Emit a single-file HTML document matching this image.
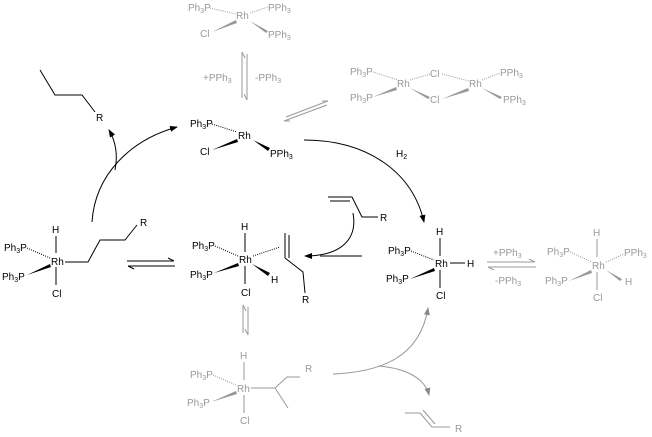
<!DOCTYPE html><html><head><style>html,body{margin:0;padding:0;background:#fff}svg{display:block}text{font-family:"Liberation Sans",sans-serif;font-size:10px}</style></head><body>
<svg width="652" height="437" viewBox="0 0 652 437" xmlns="http://www.w3.org/2000/svg">
<defs>
<marker id="ab" markerWidth="8" markerHeight="6" refX="7" refY="3" orient="auto" markerUnits="userSpaceOnUse"><path d="M0,0 L8,3 L0,6 Z" fill="#000"/></marker>
<marker id="ag" markerWidth="8" markerHeight="6" refX="7" refY="3" orient="auto" markerUnits="userSpaceOnUse"><path d="M0,0 L8,3 L0,6 Z" fill="#888"/></marker>
</defs>
<!-- Top gray Wilkinson -->
<g fill="#999" stroke="#999">
<text x="188" y="11" stroke="none">Ph<tspan font-size="7" dy="2">3</tspan><tspan dy="-2">P</tspan></text>
<line x1="210" y1="8" x2="236" y2="14" stroke-dasharray="1,1.2"/>
<text x="236" y="19" stroke="none">Rh</text>
<line x1="250" y1="13" x2="268" y2="7" stroke-dasharray="1,1.2"/>
<text x="268" y="11" stroke="none">PPh<tspan font-size="7" dy="2">3</tspan></text>
<text x="200" y="37" stroke="none">Cl</text>
<path d="M212,32 L236,20 L237,23 Z" stroke="none"/>
<path d="M250,21 L268,31 L266,33 Z" stroke="none"/>
<text x="268" y="38" stroke="none">PPh<tspan font-size="7" dy="2">3</tspan></text>
<line x1="242" y1="52" x2="242" y2="98"/><path d="M242,52 L245,58" />
<line x1="247" y1="54" x2="247" y2="100"/><path d="M247,100 L244,94"/>
<text x="203" y="81" stroke="none">+PPh<tspan font-size="7" dy="2">3</tspan></text>
<text x="255" y="81" stroke="none">-PPh<tspan font-size="7" dy="2">3</tspan></text>
<line x1="286" y1="117" x2="328" y2="101"/><path d="M328,101 L322,101"/>
<line x1="284" y1="121" x2="327" y2="105"/><path d="M284,121 L290,121"/>
<!-- dimer -->
<text x="350" y="75" stroke="none">Ph<tspan font-size="7" dy="2">3</tspan><tspan dy="-2">P</tspan></text>
<line x1="373" y1="72" x2="398" y2="80" stroke-dasharray="1,1.2"/>
<text x="397" y="87" stroke="none">Rh</text>
<line x1="410" y1="80" x2="430" y2="74" stroke-dasharray="1,1.2"/>
<text x="430" y="77" stroke="none">Cl</text>
<line x1="442" y1="74" x2="469" y2="81" stroke-dasharray="1,1.2"/>
<text x="469" y="87" stroke="none">Rh</text>
<line x1="482" y1="80" x2="500" y2="73" stroke-dasharray="1,1.2"/>
<text x="500" y="76" stroke="none">PPh<tspan font-size="7" dy="2">3</tspan></text>
<text x="350" y="101" stroke="none">Ph<tspan font-size="7" dy="2">3</tspan><tspan dy="-2">P</tspan></text>
<path d="M373,97 L396,87 L397,90 Z" stroke="none"/>
<path d="M410,88 L430,97 L428,99 Z" stroke="none"/>
<text x="430" y="103" stroke="none">Cl</text>
<path d="M442,99 L468,88 L469,91 Z" stroke="none"/>
<path d="M482,88 L502,97 L500,99 Z" stroke="none"/>
<text x="503" y="103" stroke="none">PPh<tspan font-size="7" dy="2">3</tspan></text>
</g>
<!-- middle Wilkinson -->
<g fill="#000" stroke="#000">
<text x="190" y="127" stroke="none">Ph<tspan font-size="7" dy="2">3</tspan><tspan dy="-2">P</tspan></text>
<line x1="212" y1="124" x2="237" y2="132" stroke-dasharray="1,1.2"/>
<text x="238" y="139" stroke="none">Rh</text>
<text x="200" y="155" stroke="none">Cl</text>
<path d="M212,150 L237,139 L238,142 Z" stroke="none"/>
<path d="M253,140 L270,148 L268,151 Z" stroke="none"/>
<text x="270" y="157" stroke="none">PPh<tspan font-size="7" dy="2">3</tspan></text>
<!-- product top-left -->
<polyline points="40,70 55,95 82,95 95,112" fill="none"/>
<text x="96" y="121" stroke="none">R</text>
<path d="M92,222 C95,175 130,140 177,127" fill="none" marker-end="url(#ab)"/>
<path d="M115,170 C118,155 116,142 109,130" fill="none" marker-end="url(#ab)"/>
<path d="M304,140 C365,140 412,170 424,222" fill="none" marker-end="url(#ab)"/>
<text x="396" y="157" stroke="none">H<tspan font-size="7" dy="2">2</tspan></text>
<!-- left complex -->
<text x="52" y="233" stroke="none">H</text>
<line x1="56" y1="236" x2="56" y2="253"/>
<text x="4" y="251" stroke="none">Ph<tspan font-size="7" dy="2">3</tspan><tspan dy="-2">P</tspan></text>
<line x1="27" y1="248" x2="50" y2="258" stroke-dasharray="1,1.2"/>
<text x="51" y="265" stroke="none">Rh</text>
<text x="2" y="280" stroke="none">Ph<tspan font-size="7" dy="2">3</tspan><tspan dy="-2">P</tspan></text>
<path d="M27,275 L50,264 L51,267 Z" stroke="none"/>
<line x1="56" y1="267" x2="56" y2="285"/>
<text x="52" y="297" stroke="none">Cl</text>
<polyline points="65,262 88,262 100,240 125,240 137,225" fill="none"/>
<text x="140" y="226" stroke="none">R</text>
<line x1="127" y1="261" x2="174" y2="261"/><path d="M174,261 L168,258"/>
<line x1="128" y1="266" x2="175" y2="266"/><path d="M128,266 L134,269"/>
<!-- middle complex -->
<text x="241" y="230" stroke="none">H</text>
<line x1="245" y1="233" x2="245" y2="252"/>
<text x="192" y="249" stroke="none">Ph<tspan font-size="7" dy="2">3</tspan><tspan dy="-2">P</tspan></text>
<line x1="215" y1="246" x2="238" y2="256" stroke-dasharray="1,1.2"/>
<text x="239" y="263" stroke="none">Rh</text>
<line x1="253" y1="256" x2="280" y2="247" stroke-dasharray="1,1.2"/>
<text x="190" y="278" stroke="none">Ph<tspan font-size="7" dy="2">3</tspan><tspan dy="-2">P</tspan></text>
<path d="M214,273 L238,263 L239,266 Z" stroke="none"/>
<path d="M252,264 L270,273 L268,276 Z" stroke="none"/>
<text x="271" y="283" stroke="none">H</text>
<line x1="245" y1="266" x2="245" y2="284"/>
<text x="241" y="296" stroke="none">Cl</text>
<line x1="285" y1="233" x2="285" y2="258"/><line x1="289" y1="235" x2="289" y2="258"/>
<polyline points="285,258 303,272 305,293" fill="none"/>
<text x="302" y="303" stroke="none">R</text>
<!-- alkene reactant -->
<line x1="328" y1="197" x2="352" y2="197"/><line x1="330" y1="201" x2="350" y2="201"/>
<polyline points="352,197 362,217 378,217" fill="none"/>
<text x="380" y="221" stroke="none">R</text>
<line x1="320" y1="256" x2="362" y2="256"/>
<path d="M353,213 C358,240 340,256 305,256" fill="none" marker-end="url(#ab)"/>
<!-- right complex -->
<text x="436" y="235" stroke="none">H</text>
<line x1="440" y1="238" x2="440" y2="256"/>
<text x="388" y="254" stroke="none">Ph<tspan font-size="7" dy="2">3</tspan><tspan dy="-2">P</tspan></text>
<line x1="411" y1="251" x2="434" y2="260" stroke-dasharray="1,1.2"/>
<text x="435" y="267" stroke="none">Rh</text>
<line x1="450" y1="263" x2="465" y2="263"/>
<text x="467" y="267" stroke="none">H</text>
<text x="386" y="282" stroke="none">Ph<tspan font-size="7" dy="2">3</tspan><tspan dy="-2">P</tspan></text>
<path d="M410,279 L434,268 L435,271 Z" stroke="none"/>
<line x1="440" y1="270" x2="440" y2="288"/>
<text x="436" y="299" stroke="none">Cl</text>
</g>
<!-- right gray -->
<g fill="#999" stroke="#999">
<line x1="487" y1="262" x2="535" y2="262"/><path d="M535,262 L529,259"/>
<line x1="488" y1="267" x2="536" y2="267"/><path d="M488,267 L494,270"/>
<text x="493" y="256" stroke="none">+PPh<tspan font-size="7" dy="2">3</tspan></text>
<text x="495" y="284" stroke="none">-PPh<tspan font-size="7" dy="2">3</tspan></text>
<text x="593" y="236" stroke="none">H</text>
<line x1="597" y1="239" x2="597" y2="257"/>
<text x="547" y="255" stroke="none">Ph<tspan font-size="7" dy="2">3</tspan><tspan dy="-2">P</tspan></text>
<line x1="570" y1="252" x2="592" y2="262" stroke-dasharray="1,1.2"/>
<text x="592" y="269" stroke="none">Rh</text>
<line x1="606" y1="262" x2="624" y2="254" stroke-dasharray="1,1.2"/>
<text x="624" y="256" stroke="none">PPh<tspan font-size="7" dy="2">3</tspan></text>
<text x="545" y="284" stroke="none">Ph<tspan font-size="7" dy="2">3</tspan><tspan dy="-2">P</tspan></text>
<path d="M569,281 L591,270 L592,273 Z" stroke="none"/>
<path d="M606,270 L622,279 L620,281 Z" stroke="none"/>
<text x="625" y="285" stroke="none">H</text>
<line x1="597" y1="272" x2="597" y2="290"/>
<text x="593" y="301" stroke="none">Cl</text>
<!-- vertical eq -->
<line x1="243" y1="305" x2="243" y2="333"/><path d="M243,305 L246,311"/>
<line x1="248" y1="307" x2="248" y2="335"/><path d="M248,335 L245,329"/>
<!-- bottom gray complex -->
<text x="240" y="359" stroke="none">H</text>
<line x1="244" y1="362" x2="244" y2="380"/>
<text x="190" y="378" stroke="none">Ph<tspan font-size="7" dy="2">3</tspan><tspan dy="-2">P</tspan></text>
<line x1="213" y1="375" x2="236" y2="385" stroke-dasharray="1,1.2"/>
<text x="237" y="392" stroke="none">Rh</text>
<line x1="251" y1="388" x2="275" y2="388"/>
<polyline points="275,388 287,377 300,377" fill="none"/>
<line x1="275" y1="388" x2="288" y2="408"/>
<text x="305" y="372" stroke="none">R</text>
<text x="187" y="406" stroke="none">Ph<tspan font-size="7" dy="2">3</tspan><tspan dy="-2">P</tspan></text>
<path d="M211,402 L236,391 L237,394 Z" stroke="none"/>
<line x1="244" y1="395" x2="244" y2="413"/>
<text x="240" y="424" stroke="none">Cl</text>
<path d="M333,374 C380,372 420,358 428,308" fill="none" marker-end="url(#ag)"/>
<path d="M378,366 C405,368 425,378 429,395" fill="none" marker-end="url(#ag)"/>
<polyline points="405,413 420,413 432,427" fill="none"/>
<line x1="423" y1="410" x2="435" y2="424"/>
<line x1="432" y1="427" x2="450" y2="427"/>
<text x="455" y="432" stroke="none">R</text>
</g>
</svg>
</body></html>
